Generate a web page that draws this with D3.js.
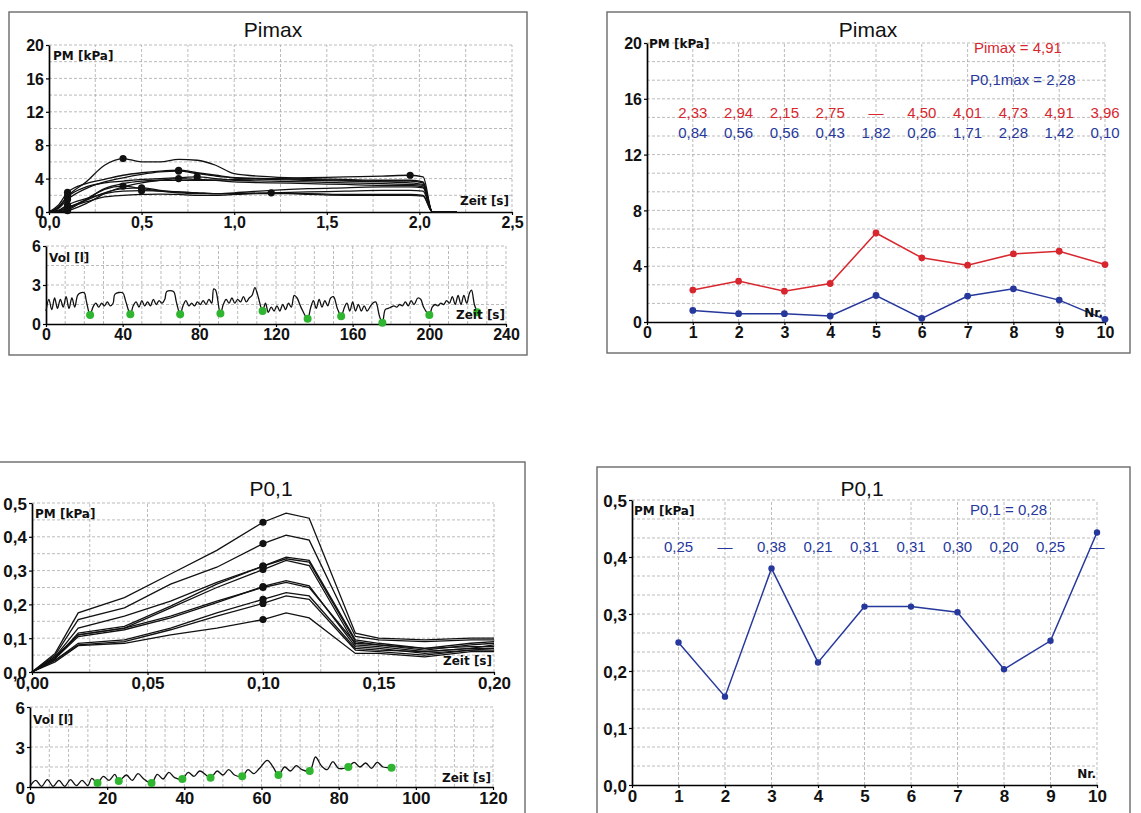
<!DOCTYPE html>
<html><head><meta charset="utf-8">
<script src="https://cdn.jsdelivr.net/npm/d3@7"></script>
<style>
html,body{margin:0;padding:0;background:#fff;}
svg{display:block;}
</style></head>
<body>
<svg id="c" width="1141" height="813"></svg>
<script>
// ---------------- DATA ----------------
// Panel A (Pimax manoeuvres, pressure vs time)
const pimaxT = [0, 0.05, 0.1, 0.2, 0.3, 0.4, 0.5, 0.6, 0.7, 0.8, 0.9, 1.0, 1.2, 1.4, 1.6, 1.8, 1.95, 2.02, 2.07, 2.2];
const pimaxCurves = [
  [0, 0.2, 0.84, 1.6, 2.2, 2.5, 2.55, 2.5, 2.4, 2.3, 2.2, 2.2, 2.2, 2.2, 2.1, 2.1, 2.1, 2.0, 0, 0],
  [0, 0.15, 0.56, 1.4, 2.3, 2.8, 2.9, 2.6, 2.4, 2.3, 2.2, 2.2, 2.3, 2.4, 2.5, 2.6, 2.6, 2.5, 0, 0],
  [0, 0.15, 0.56, 1.2, 1.8, 2.0, 2.1, 2.15, 2.1, 2.0, 2.0, 2.1, 2.3, 2.1, 2.0, 2.0, 2.0, 1.9, 0, 0],
  [0, 0.1, 0.43, 1.5, 2.7, 3.1, 2.8, 2.5, 2.3, 2.2, 2.2, 2.3, 2.6, 2.8, 2.9, 3.0, 3.0, 2.9, 0, 0],
  [0, 0.6, 1.9, 3.6, 5.6, 6.4, 6.0, 6.0, 6.3, 6.2, 5.6, 4.6, 4.2, 4.0, 3.9, 3.8, 3.8, 3.6, 0, 0],
  [0, 0.05, 0.26, 1.5, 2.8, 3.4, 3.7, 3.8, 3.8, 3.8, 3.8, 3.9, 4.0, 4.1, 4.2, 4.3, 4.4, 4.2, 0, 0],
  [0, 0.5, 1.8, 3.0, 3.5, 3.7, 3.9, 4.0, 4.1, 4.2, 4.0, 3.8, 3.7, 3.6, 3.5, 3.4, 3.3, 3.2, 0, 0],
  [0, 0.8, 2.35, 3.4, 3.9, 4.4, 4.7, 4.9, 5.0, 4.7, 4.4, 4.1, 3.9, 3.8, 3.7, 3.6, 3.5, 3.3, 0, 0],
  [0, 0.4, 1.5, 2.8, 3.6, 4.1, 4.5, 4.8, 4.9, 4.6, 4.3, 4.1, 4.0, 3.9, 3.8, 3.7, 3.7, 3.5, 0, 0],
  [0, 0.02, 0.15, 1.0, 2.2, 3.0, 3.5, 3.8, 4.0, 3.9, 3.8, 3.6, 3.5, 3.4, 3.3, 3.2, 3.2, 3.0, 0, 0]
];
// Panel A volume trace [time s, volume l]
const volA = [[0,1.0],[1.5,1.9],[3,1.1],[4.5,2.0],[6,1.2],[7.5,1.9],[9,1.3],[10.5,2.1],[12,1.2],[13.5,2.0],[15,1.3],[16.5,2.2],[18,2.4],[20,2.4],[21,1.8],[23,0.7],
[24.5,1.3],[26,1.6],[27.5,1.3],[29,1.6],[30.5,1.4],[32,1.7],[33.5,1.4],[35,1.6],[36,2.3],[40,2.4],[41.5,1.8],[44,0.75],
[45.5,1.4],[47,1.7],[48.5,1.3],[50,1.8],[51.5,1.4],[53,1.7],[54.5,1.4],[56,1.9],[57.5,1.5],[59,1.8],[60.5,1.6],[62,1.9],[63,2.5],[66.5,2.5],[68,1.7],[70,0.75],
[71.5,1.4],[73,1.8],[74.5,1.4],[76,1.6],[77.5,1.4],[79,1.7],[80.5,1.5],[82,1.8],[83.5,1.5],[85,1.9],[86.5,1.6],[87.5,2.7],[88.5,2.6],[91,0.8],
[92.5,1.5],[94,1.9],[95.5,1.6],[97,2.0],[98.5,1.6],[100,1.9],[101.5,1.7],[103,2.1],[104.5,1.7],[106,2.0],[107.5,2.2],[109,2.8],[110.5,2.2],[113,1.0],
[114.5,1.6],[116,0.9],[117.5,1.3],[119,1.0],[120.5,1.4],[122,1.0],[123.5,1.5],[125,1.1],[126.5,1.6],[128,1.3],[129.5,2.2],[131,2.0],[133,1.3],[136.5,0.4],
[138,1.2],[139.5,1.8],[141,1.2],[142.5,1.9],[144,1.3],[145.5,1.8],[147,1.4],[148.5,2.0],[150,2.1],[152,1.2],[154,0.6],
[155.5,1.2],[157,1.6],[158.5,1.0],[160,1.7],[161.5,1.0],[163,1.5],[164.5,1.0],[166,1.4],[167.5,1.0],[169,1.3],[170.5,1.6],[172,1.7],[174,0.6],[175.5,0.1],
[177,1.1],[178.5,1.2],[180,1.3],[181.5,1.4],[183,1.3],[184.5,1.5],[186,1.4],[187.5,1.7],[189,1.4],[190.5,1.8],[192,1.5],[194,2.0],[195.5,1.9],[197,1.3],[200,0.7],
[201.5,1.3],[203,1.5],[204.5,1.4],[206,1.6],[207.5,1.5],[209,1.8],[210.5,1.6],[212,2.1],[213.5,1.5],[215,2.2],[216.5,1.5],[218,2.2],[219.5,1.6],[221,2.4],[222,2.6],[223.5,1.5],[225,0.9]];
const volADots = [[23,0.7],[44,0.75],[70,0.75],[91,0.8],[113,1.0],[136.5,0.4],[154,0.6],[175.5,0.1],[200,0.7],[225,0.9]];

// Panel B (per-manoeuvre values)
const nr = [1, 2, 3, 4, 5, 6, 7, 8, 9, 10];
const pimaxVals = [2.29, 2.93, 2.21, 2.76, 6.38, 4.6, 4.07, 4.88, 5.07, 4.12];
const p01maxVals = [0.83, 0.6, 0.6, 0.43, 1.9, 0.26, 1.86, 2.38, 1.57, 0.19];
const pimaxLabels = ["2,33", "2,94", "2,15", "2,75", "—", "4,50", "4,01", "4,73", "4,91", "3,96"];
const p01maxLabels = ["0,84", "0,56", "0,56", "0,43", "1,82", "0,26", "1,71", "2,28", "1,42", "0,10"];

// Panel C (P0,1 manoeuvres)
const p01T = [0, 0.01, 0.02, 0.04, 0.06, 0.08, 0.10, 0.11, 0.12, 0.14, 0.15, 0.17, 0.19, 0.20];
const p01Curves = [
  [0, 0.045, 0.11, 0.13, 0.165, 0.21, 0.25, 0.265, 0.25, 0.085, 0.08, 0.07, 0.075, 0.075],
  [0, 0.03, 0.078, 0.085, 0.11, 0.13, 0.155, 0.175, 0.16, 0.055, 0.055, 0.045, 0.06, 0.06],
  [0, 0.05, 0.155, 0.19, 0.26, 0.31, 0.38, 0.405, 0.39, 0.105, 0.095, 0.09, 0.095, 0.095],
  [0, 0.035, 0.085, 0.095, 0.13, 0.175, 0.215, 0.235, 0.225, 0.07, 0.065, 0.06, 0.07, 0.07],
  [0, 0.045, 0.13, 0.165, 0.21, 0.265, 0.313, 0.34, 0.33, 0.095, 0.085, 0.07, 0.085, 0.09],
  [0, 0.04, 0.115, 0.135, 0.195, 0.26, 0.313, 0.335, 0.325, 0.09, 0.08, 0.065, 0.08, 0.085],
  [0, 0.04, 0.11, 0.13, 0.19, 0.25, 0.303, 0.33, 0.315, 0.08, 0.075, 0.06, 0.07, 0.08],
  [0, 0.035, 0.08, 0.09, 0.125, 0.165, 0.203, 0.225, 0.215, 0.065, 0.06, 0.05, 0.065, 0.065],
  [0, 0.04, 0.105, 0.125, 0.16, 0.205, 0.253, 0.27, 0.255, 0.075, 0.07, 0.055, 0.065, 0.07],
  [0, 0.055, 0.175, 0.22, 0.29, 0.36, 0.443, 0.47, 0.455, 0.115, 0.1, 0.095, 0.1, 0.1]
];
const volC = [[0,0.05],[1.5,0.5],[3,0.05],[4.5,0.55],[6,0.05],[7.5,0.5],[9,0.05],[10.5,0.55],[12,0.1],[13.5,0.5],[15,0.1],[16,0.65],[17.5,0.3],[19,0.8],[20.5,0.5],[22,0.95],[23,0.45],[25,0.9],[26.5,0.5],[28,1.0],[29.5,0.6],[31.5,0.3],[33,0.95],[34.5,0.6],[36,1.1],[37.5,0.7],[39.5,0.6],[41,1.1],[42.5,0.8],[44,1.2],[46.8,0.7],[48.5,1.2],[50,0.9],[51.5,1.3],[53,0.9],[55,0.8],[56.5,1.3],[58,1.0],[59.5,1.4],[61.5,2.0],[63,1.5],[64.4,0.9],[66,1.5],[67.5,1.2],[69,1.6],[70.5,1.3],[72.5,1.2],[74,2.25],[75.5,1.6],[77,1.3],[78.5,1.9],[80,1.4],[82.5,1.5],[84,1.85],[85.5,1.5],[87,1.8],[88.5,1.4],[90,1.85],[91.5,1.5],[93.7,1.45]];
const volCDots = [[17.5,0.3],[23,0.45],[31.5,0.3],[39.5,0.6],[46.8,0.7],[55,0.8],[64.4,0.9],[72.5,1.2],[82.5,1.5],[93.7,1.45]];

// Panel D
const p01Vals = [0.25, 0.155, 0.38, 0.215, 0.313, 0.313, 0.303, 0.203, 0.253, 0.443];
const p01Labels = ["0,25", "—", "0,38", "0,21", "0,31", "0,31", "0,30", "0,20", "0,25", "—"];

// tick values
const ticksA_x = [0, 0.5, 1.0, 1.5, 2.0, 2.5], ticksA_y = [0, 4, 8, 12, 16, 20];
const ticksVolA_x = [0, 40, 80, 120, 160, 200, 240], ticksVol_y = [0, 3, 6];
const ticksNr = [0, 1, 2, 3, 4, 5, 6, 7, 8, 9, 10];
const ticksC_x = [0, 0.05, 0.10, 0.15, 0.20], ticksC_y = [0, 0.1, 0.2, 0.3, 0.4, 0.5];
const ticksVolC_x = [0, 20, 40, 60, 80, 100, 120];

// ---------------- DRAWING ----------------
const RED = "#d8262e", BLUE = "#26389c", GREEN = "#2fb52f";
const svg = d3.select("#c");
const comma = p => d => d3.format(p)(d).replace(".", ",");
const TICKFONT = "'Liberation Sans', Arial, sans-serif";
const LBLFONT = "'DejaVu Sans', Verdana, sans-serif";

function frame(x, y, w, h) {
  svg.append("rect").attr("x", x).attr("y", y).attr("width", w).attr("height", h)
    .attr("fill", "#fff").attr("stroke", "#6a6a6a").attr("stroke-width", 1.4);
}
function title(txt, x, y) {
  svg.append("text").attr("x", x).attr("y", y).attr("text-anchor", "middle")
    .attr("font-family", TICKFONT).attr("font-size", 21).attr("fill", "#111").text(txt);
}
function label(txt, x, y, anchor, g) {
  (g || svg).append("text").attr("x", x).attr("y", y).attr("text-anchor", anchor || "start")
    .attr("font-family", LBLFONT).attr("font-weight", "bold").attr("font-size", 12)
    .attr("fill", "#111").text(txt);
}
function plot(o) {
  const x = d3.scaleLinear().domain(o.xd).range([o.left, o.right]);
  const y = d3.scaleLinear().domain(o.yd).range([o.bottom, o.top]);
  const g = svg.append("g");
  const grid = g.append("g").attr("stroke", "#a9a9a9").attr("stroke-width", 0.8).attr("stroke-dasharray", "3,2");
  grid.selectAll(".gx").data(o.gx).join("line").attr("class", "gx")
    .attr("x1", d => x(d)).attr("x2", d => x(d)).attr("y1", y(o.yd[0])).attr("y2", y(o.yd[1]));
  grid.selectAll(".gy").data(o.gy).join("line").attr("class", "gy")
    .attr("y1", d => y(d)).attr("y2", d => y(d)).attr("x1", x(o.xd[0])).attr("x2", x(o.xd[1]));
  const fs = o.fs || 16;
  const ax = g.append("g").attr("transform", `translate(0,${y(o.yd[0])})`)
    .call(d3.axisBottom(x).tickValues(o.xt).tickFormat(o.xf).tickSize(3).tickSizeOuter(0).tickPadding(2));
  const ay = g.append("g").attr("transform", `translate(${x(o.xd[0])},0)`)
    .call(d3.axisLeft(y).tickValues(o.yt).tickFormat(o.yf).tickSize(3).tickSizeOuter(0).tickPadding(2));
  [ax, ay].forEach(a => {
    a.select(".domain").attr("stroke", "#000").attr("stroke-width", 1.7);
    a.selectAll(".tick line").attr("stroke", "#000").attr("stroke-width", 1.2);
    a.selectAll(".tick text").attr("font-family", TICKFONT).attr("font-weight", "bold")
      .attr("font-size", fs).attr("fill", "#111");
  });
  ay.selectAll(".tick text").attr("dy", "0.36em");
  const data = g.append("g");
  return { x, y, g: data };
}

// ===== Panel A =====
frame(9, 12, 518, 343);
title("Pimax", 273, 37);
{
  const p = plot({ left: 49, right: 512, top: 45, bottom: 212, xd: [0, 2.5], yd: [0, 20],
    gx: d3.range(1, 11).map(i => i * 0.25), gy: d3.range(1, 11).map(i => i * 2),
    xt: ticksA_x, yt: ticksA_y, xf: comma(".1f"), yf: d3.format("d") });
  const line = d3.line().x((d, i) => p.x(pimaxT[i])).y(d => p.y(d)).curve(d3.curveMonotoneX);
  p.g.selectAll(".cv").data(pimaxCurves).join("path").attr("d", line)
    .attr("fill", "none").attr("stroke", "#111").attr("stroke-width", 1.3);
  const dots = [];
  pimaxCurves.forEach(c => {
    dots.push([pimaxT[2], c[2]]);
    const mi = d3.maxIndex(c);
    dots.push([pimaxT[mi], c[mi]]);
  });
  p.g.selectAll(".dt").data(dots).join("circle").attr("cx", d => p.x(d[0])).attr("cy", d => p.y(d[1]))
    .attr("r", 3.6).attr("fill", "#111");
  label("PM [kPa]", 53, 60);
  label("Zeit [s]", 509, 205, "end");
}
{
  const p = plot({ left: 46, right: 506, top: 246, bottom: 324, xd: [0, 240], yd: [0, 6],
    gx: d3.range(1, 25).map(i => i * 10), gy: [1.5, 3, 4.5, 6],
    xt: ticksVolA_x, yt: ticksVol_y, xf: d3.format("d"), yf: d3.format("d") });
  p.g.append("path").datum(volA).attr("d", d3.line().x(d => p.x(d[0])).y(d => p.y(d[1])).curve(d3.curveCatmullRom))
    .attr("fill", "none").attr("stroke", "#111").attr("stroke-width", 1.3);
  p.g.selectAll(".gd").data(volADots).join("circle").attr("cx", d => p.x(d[0])).attr("cy", d => p.y(d[1]))
    .attr("r", 4).attr("fill", GREEN);
  label("Vol [l]", 49, 262);
  label("Zeit [s]", 505, 319, "end");
}

// ===== Panel B =====
frame(607, 12, 523, 341);
title("Pimax", 868, 37);
{
  const p = plot({ left: 647, right: 1105, top: 43, bottom: 322, xd: [0, 10], yd: [0, 20],
    gx: d3.range(1, 11), gy: d3.range(1, 16).map(i => i * 20 / 15),
    xt: ticksNr, yt: ticksA_y, xf: d3.format("d"), yf: d3.format("d") });
  const ln = vals => d3.line().x((d, i) => p.x(nr[i])).y(d => p.y(d))(vals);
  [[pimaxVals, RED], [p01maxVals, BLUE]].forEach(([vals, col]) => {
    p.g.append("path").attr("d", ln(vals)).attr("fill", "none").attr("stroke", col).attr("stroke-width", 1.5);
    p.g.selectAll(null).data(vals).join("circle").attr("cx", (d, i) => p.x(nr[i])).attr("cy", d => p.y(d))
      .attr("r", 3.4).attr("fill", col);
  });
  const rowLbl = (labels, col, yy) => p.g.selectAll(null).data(labels).join("text")
    .attr("x", (d, i) => p.x(nr[i])).attr("y", yy).attr("text-anchor", "middle")
    .attr("font-family", TICKFONT).attr("font-size", 15).attr("fill", col).text(d => d);
  rowLbl(pimaxLabels, RED, 118);
  rowLbl(p01maxLabels, BLUE, 138);
  svg.append("text").attr("x", 974).attr("y", 53).attr("font-family", TICKFONT).attr("font-size", 15)
    .attr("fill", RED).text("Pimax = " + pimaxLabels[8]);
  svg.append("text").attr("x", 970).attr("y", 85).attr("font-family", TICKFONT).attr("font-size", 15)
    .attr("fill", BLUE).text("P0,1max = " + p01maxLabels[7]);
  label("PM [kPa]", 649, 48);
  label("Nr.", 1103, 317, "end");
}

// ===== Panel C =====
frame(-2, 462, 527, 400);
title("P0,1", 271, 496);
{
  const p = plot({ left: 32, right: 494, top: 503, bottom: 672, xd: [0, 0.2], yd: [0, 0.5],
    gx: d3.range(1, 9).map(i => i * 0.025), gy: d3.range(1, 11).map(i => i * 0.05),
    xt: ticksC_x, yt: ticksC_y, xf: comma(".2f"), yf: comma(".1f"), fs: 17 });
  const line = d3.line().x((d, i) => p.x(p01T[i])).y(d => p.y(d));
  p.g.selectAll(".cv").data(p01Curves).join("path").attr("d", line)
    .attr("fill", "none").attr("stroke", "#111").attr("stroke-width", 1.3);
  p.g.selectAll(".dt").data(p01Curves).join("circle").attr("cx", p.x(p01T[6])).attr("cy", d => p.y(d[6]))
    .attr("r", 3.6).attr("fill", "#111");
  label("PM [kPa]", 35, 518);
  label("Zeit [s]", 492, 665, "end");
}
{
  const p = plot({ left: 30, right: 493, top: 707, bottom: 787, xd: [0, 120], yd: [0, 6],
    gx: d3.range(1, 25).map(i => i * 5), gy: [1.5, 3, 4.5, 6],
    xt: ticksVolC_x, yt: ticksVol_y, xf: d3.format("d"), yf: d3.format("d"), fs: 17 });
  p.g.append("path").datum(volC).attr("d", d3.line().x(d => p.x(d[0])).y(d => p.y(d[1])).curve(d3.curveCatmullRom))
    .attr("fill", "none").attr("stroke", "#111").attr("stroke-width", 1.3);
  p.g.selectAll(".gd").data(volCDots).join("circle").attr("cx", d => p.x(d[0])).attr("cy", d => p.y(d[1]))
    .attr("r", 4).attr("fill", GREEN);
  label("Vol [l]", 33, 724);
  label("Zeit [s]", 491, 782, "end");
}

// ===== Panel D =====
frame(597, 467, 533, 400);
title("P0,1", 862, 496);
{
  const p = plot({ left: 632, right: 1097, top: 500, bottom: 785, xd: [0, 10], yd: [0, 0.5],
    gx: d3.range(1, 11), gy: d3.range(1, 16).map(i => i * 0.5 / 15),
    xt: ticksNr, yt: ticksC_y, xf: d3.format("d"), yf: comma(".1f"), fs: 17 });
  p.g.append("path").attr("d", d3.line().x((d, i) => p.x(nr[i])).y(d => p.y(d))(p01Vals))
    .attr("fill", "none").attr("stroke", BLUE).attr("stroke-width", 1.5);
  p.g.selectAll(null).data(p01Vals).join("circle").attr("cx", (d, i) => p.x(nr[i])).attr("cy", d => p.y(d))
    .attr("r", 3.2).attr("fill", BLUE);
  p.g.selectAll(null).data(p01Labels).join("text")
    .attr("x", (d, i) => p.x(nr[i])).attr("y", 552).attr("text-anchor", "middle")
    .attr("font-family", TICKFONT).attr("font-size", 15).attr("fill", BLUE).text(d => d);
  svg.append("text").attr("x", 970).attr("y", 515).attr("font-family", TICKFONT).attr("font-size", 15)
    .attr("fill", BLUE).text("P0,1 = 0,28");
  label("PM [kPa]", 634, 515);
  label("Nr.", 1096, 778, "end");
}
</script>
</body></html>
